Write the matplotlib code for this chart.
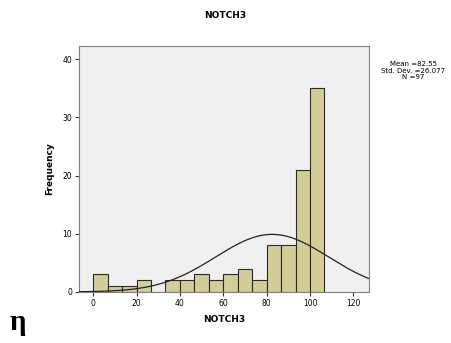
import numpy as np
import matplotlib
matplotlib.use("Agg")
import matplotlib.pyplot as plt

# histogram bins (width 100/15) and counts
bin_edges = np.linspace(0, 320 / 3, 17)
counts = [3, 1, 1, 2, 0, 2, 2, 3, 2, 3, 4, 2, 8, 8, 21, 35]

mean = 82.55
std = 26.077
n = 97

x_ticks = [0, 20, 40, 60, 80, 100, 120]
y_ticks = [0, 10, 20, 30, 40]

fig = plt.figure(figsize=(4.51, 3.43), dpi=100)
fig.patch.set_facecolor("white")
ax = fig.add_axes([0.175, 0.149, 0.643, 0.717])
ax.set_facecolor("#F0F0F0")

widths = np.diff(bin_edges)
ax.bar(bin_edges[:-1], counts, width=widths, align="edge",
       color="#D3CE97", edgecolor="#2a2a2a", linewidth=0.8, zorder=2)

# normal curve scaled to the histogram
xs = np.linspace(-7, 128, 400)
bw = widths[0]
ys = n * bw / (std * np.sqrt(2 * np.pi)) * np.exp(-0.5 * ((xs - mean) / std) ** 2)
ax.plot(xs, ys, color="#222222", linewidth=0.9, zorder=3)

ax.set_xlim(-6.6, 127.2)
ax.set_ylim(0, 42.3)
ax.set_xticks(x_ticks)
ax.set_yticks(y_ticks)
ax.tick_params(labelsize=5.5, length=3, width=0.8, color="#333333", pad=2)
for s in ax.spines.values():
    s.set_color("#808080")
    s.set_linewidth(0.8)

ax.set_xlabel("NOTCH3", fontsize=6.5, fontweight="bold", labelpad=5)
ax.set_ylabel("Frequency", fontsize=6.5, fontweight="bold", labelpad=6)
fig.text(0.499, 0.955, "NOTCH3", fontsize=6.5, fontweight="bold",
         ha="center", va="center")

fig.text(0.916, 0.794,
         "Mean =%.2f\nStd. Dev. =%.3f\nN =%d" % (mean, std, n),
         fontsize=5, ha="center", va="center", linespacing=1.05)

fig.text(0.022, 0.038, "η", fontsize=21, fontweight="bold",
         family="Liberation Serif", ha="left", va="baseline")

fig.savefig("out.png", dpi=100)
